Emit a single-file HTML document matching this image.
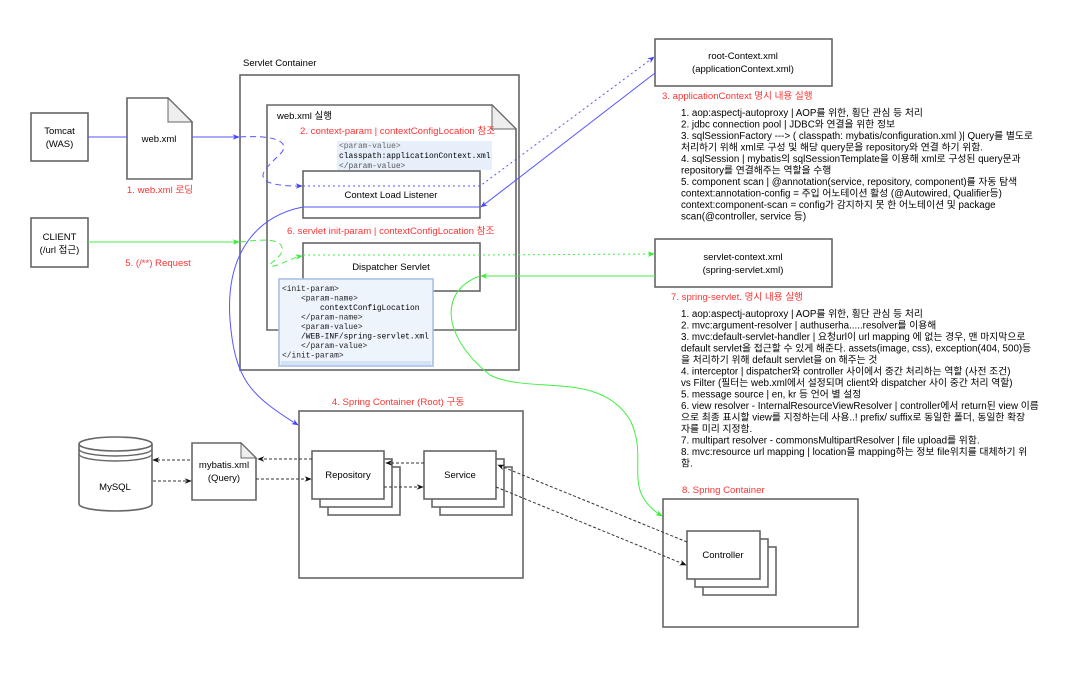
<!DOCTYPE html>
<html><head><meta charset="utf-8"><style>
html,body{margin:0;padding:0;background:#fff;}
svg{display:block;font-family:"Liberation Sans","Noto Sans CJK KR",sans-serif;}
.b{fill:#fff;stroke:#666;stroke-width:1.6}
.t{font-size:9.5px;fill:#000}
.r{font-size:9.6px;fill:#ff3333}
.m{font-family:"Liberation Mono",monospace;font-size:7.9px}
.l{font-size:9.8px;fill:#000}
</style></head><body>
<svg width="1075" height="678" viewBox="0 0 1075 678" xmlns="http://www.w3.org/2000/svg">
<defs>
<marker id="ab" viewBox="0 0 10 10" refX="9" refY="5" markerWidth="7" markerHeight="7" orient="auto"><path d="M0,1 L10,5 L0,9 L3,5z" fill="#4444ff"/></marker>
<marker id="ag" viewBox="0 0 10 10" refX="9" refY="5" markerWidth="7" markerHeight="7" orient="auto"><path d="M0,1 L10,5 L0,9 L3,5z" fill="#33ee33"/></marker>
<marker id="ak" viewBox="0 0 10 10" refX="9" refY="5" markerWidth="7" markerHeight="7" orient="auto"><path d="M0,1 L10,5 L0,9 L3,5z" fill="#111"/></marker>
</defs>

<!-- Left boxes -->
<rect class="b" x="31" y="113" width="57" height="48"/>
<text class="t" x="59.5" y="134" text-anchor="middle">Tomcat</text>
<text class="t" x="59.5" y="147" text-anchor="middle">(WAS)</text>
<path class="b" d="M127,98 H168 L192,122 V179 H127Z"/>
<path d="M168,98 V122 H192Z" fill="#eee" stroke="#666" stroke-width="1"/>
<text class="t" x="159" y="142" text-anchor="middle">web.xml</text>
<text class="r" x="160" y="193" text-anchor="middle">1.  web.xml 로딩</text>
<rect class="b" x="31" y="218" width="57" height="49"/>
<text class="t" x="59.5" y="240" text-anchor="middle">CLIENT</text>
<text class="t" x="59.5" y="253" text-anchor="middle">(/url 접근)</text>
<text class="r" x="158" y="266" text-anchor="middle">5. (/**) Request</text>

<!-- Servlet container -->
<text class="t" x="243" y="66">Servlet Container</text>
<rect class="b" x="240" y="75" width="279" height="295"/>
<path class="b" d="M267,105 H492 L516,129 V330 H267Z"/>
<path d="M492,105 V129 H516Z" fill="#eee" stroke="#666" stroke-width="1"/>
<text class="t" x="277" y="119">web.xml 실행</text>
<text class="r" x="300" y="134">2. context-param | contextConfigLocation 참조</text>
<rect x="337" y="141" width="155" height="29" fill="#e6effa"/>
<text class="m" x="339" y="148" fill="#666">&lt;param-value&gt;</text>
<text class="m" x="339" y="158" fill="#000">classpath:applicationContext.xml</text>
<text class="m" x="339" y="168" fill="#555">&lt;/param-value&gt;</text>
<rect class="b" x="303" y="171" width="177" height="47"/>
<text class="t" x="391" y="198" text-anchor="middle">Context Load Listener</text>
<text class="r" x="287" y="234">6. servlet init-param | contextConfigLocation 참조</text>
<rect class="b" x="303" y="243" width="177" height="48"/>
<text class="t" x="391" y="270" text-anchor="middle">Dispatcher Servlet</text>
<rect x="279" y="279" width="154" height="87" fill="#eef4fc" stroke="#a9c0e6" stroke-width="1.6"/>
<rect x="281" y="361" width="150" height="4" fill="#d4e2f6"/>
<g class="m" fill="#222">
<text x="282" y="291">&lt;init-param&gt;</text>
<text x="301" y="300.5">&lt;param-name&gt;</text>
<text x="320" y="310" fill="#000">contextConfigLocation</text>
<text x="301" y="319.5">&lt;/param-name&gt;</text>
<text x="301" y="329">&lt;param-value&gt;</text>
<text x="301" y="338.5" fill="#000">/WEB-INF/spring-servlet.xml</text>
<text x="301" y="348">&lt;/param-value&gt;</text>
<text x="282" y="357.5">&lt;/init-param&gt;</text>
</g>

<!-- right top -->
<rect class="b" x="655" y="39" width="177" height="47"/>
<text class="t" x="743" y="59" text-anchor="middle">root-Context.xml</text>
<text class="t" x="743" y="72" text-anchor="middle">(applicationContext.xml)</text>
<text class="r" x="662" y="99">3. applicationContext 명시 내용 실행</text>
<g class="l">
<text x="681" y="116">1. aop:aspectj-autoproxy  | AOP를 위한, 횡단 관심 등 처리</text>
<text x="681" y="127.5">2. jdbc connection pool    | JDBC와 연결을 위한 정보</text>
<text x="681" y="139">3. sqlSessionFactory  ---&gt; ( classpath: mybatis/configuration.xml )| Query를 별도로</text>
<text x="681" y="150.5">처리하기 위해 xml로 구성 및 해당 query문을 repository와 연결 하기 위함.</text>
<text x="681" y="162">4. sqlSession | mybatis의 sqlSessionTemplate을 이용해 xml로 구성된 query문과</text>
<text x="681" y="173.5">repository를 연결해주는 역할을 수행</text>
<text x="681" y="185">5. component scan  | @annotation(service, repository, component)를 자동 탐색</text>
<text x="681" y="196.5">context:annotation-config = 주입 어노테이션 활성 (@Autowired, Qualifier등)</text>
<text x="681" y="208">context:component-scan = config가 감지하지 못 한 어노테이션 및 package</text>
<text x="681" y="219.5">scan(@controller, service 등)</text>
</g>
<rect class="b" x="655" y="239" width="177" height="48"/>
<text class="t" x="743" y="260" text-anchor="middle">servlet-context.xml</text>
<text class="t" x="743" y="273" text-anchor="middle">(spring-servlet.xml)</text>
<text class="r" x="671" y="300">7. spring-servlet. 명시 내용 실행</text>
<g class="l">
<text x="681" y="317">1. aop:aspectj-autoproxy  | AOP를 위한, 횡단 관심 등 처리</text>
<text x="681" y="328.5">2. mvc:argument-resolver | authuserha.....resolver를 이용해</text>
<text x="681" y="340">3. mvc:default-servlet-handler | 요청url이 url mapping 에 없는 경우, 맨 마지막으로</text>
<text x="681" y="351.5">default servlet을 접근할 수 있게 해준다. assets(image, css), exception(404, 500)등</text>
<text x="681" y="363">을 처리하기 위해 default servlet을 on 해주는 것</text>
<text x="681" y="374.5">4. interceptor | dispatcher와 controller 사이에서 중간 처리하는 역할  (사전 조건)</text>
<text x="681" y="386">vs Filter (필터는 web.xml에서 설정되며 client와 dispatcher 사이 중간 처리 역할)</text>
<text x="681" y="397.5">5. message source | en, kr 등 언어 별 설정</text>
<text x="681" y="409">6. view resolver - InternalResourceViewResolver | controller에서 return된 view 이름</text>
<text x="681" y="420.5">으로 최종 표시할 view를 지정하는데 사용..! prefix/ suffix로 동일한 폴더, 동일한 확장</text>
<text x="681" y="432">자를 미리 지정함.</text>
<text x="681" y="443.5">7. multipart resolver - commonsMultipartResolver | file upload를 위함.</text>
<text x="681" y="455">8. mvc:resource url mapping | location을 mapping하는 정보 file위치를 대체하기 위</text>
<text x="681" y="466.5">함.</text>
</g>

<!-- Spring root container -->
<text class="r" x="398" y="405" text-anchor="middle">4. Spring Container (Root) 구동</text>
<rect class="b" x="299" y="411" width="224" height="167"/>
<rect class="b" x="328" y="467" width="72" height="48"/>
<rect class="b" x="320" y="459" width="72" height="48"/>
<rect class="b" x="312" y="451" width="72" height="48"/>
<text class="t" x="348" y="478" text-anchor="middle">Repository</text>
<rect class="b" x="440" y="467" width="72" height="48"/>
<rect class="b" x="432" y="459" width="72" height="48"/>
<rect class="b" x="424" y="451" width="72" height="48"/>
<text class="t" x="460" y="478" text-anchor="middle">Service</text>

<!-- MySQL -->
<path class="b" d="M79,444 V504 A36.5,7 0 0 0 152,504 V444"/>
<ellipse class="b" cx="115.5" cy="444" rx="36.5" ry="7"/>
<path d="M79,449 A36.5,7 0 0 0 152,449 M79,454 A36.5,7 0 0 0 152,454" fill="none" stroke="#666" stroke-width="1.4"/>
<text class="t" x="115" y="490" text-anchor="middle">MySQL</text>
<path class="b" d="M192,443 H241 L256,458 V500 H192Z"/>
<path d="M241,443 V458 H256Z" fill="#eee" stroke="#666" stroke-width="1"/>
<text class="t" x="224" y="468" text-anchor="middle">mybatis.xml</text>
<text class="t" x="224" y="481" text-anchor="middle">(Query)</text>

<!-- Spring container 8 -->
<text class="r" x="682" y="493">8. Spring Container</text>
<rect class="b" x="663" y="499" width="195" height="128"/>
<rect class="b" x="703" y="547" width="73" height="48"/>
<rect class="b" x="695" y="539" width="73" height="48"/>
<rect class="b" x="687" y="531" width="73" height="48"/>
<text class="t" x="723" y="558" text-anchor="middle">Controller</text>

<!-- black dashed -->
<g fill="none" stroke="#333" stroke-width="1" stroke-dasharray="3,2">
<path d="M190,460 H153" marker-end="url(#ak)"/>
<path d="M153,481 H191" marker-end="url(#ak)"/>
<path d="M312,459 H258" marker-end="url(#ak)"/>
<path d="M256,479 H311" marker-end="url(#ak)"/>
<path d="M424,463 H386" marker-end="url(#ak)"/>
<path d="M384,487 H423" marker-end="url(#ak)"/>
<path d="M687,542 L498,465" marker-end="url(#ak)"/>
<path d="M496,487 L686,565" marker-end="url(#ak)"/>
</g>

<!-- blue -->
<g fill="none" stroke="#5555ff" stroke-width="1">
<path d="M88,137 H127"/>
<path d="M192,137 H239" marker-end="url(#ab)"/>
<path d="M240,137 C270,135 290,140 282,152 C270,165 255,175 268,182 C278,186 290,186 302,186" stroke-dasharray="6,4" marker-end="url(#ab)"/>
<path d="M303,186 H480 L654,57" stroke-dasharray="2,3" marker-end="url(#ab)"/>
<path d="M655,73 L481,207" marker-end="url(#ab)"/>
<path d="M480,207 H303 C260,215 225,250 230,320 C235,380 250,395 298,425" marker-end="url(#ab)"/>
</g>
<!-- green -->
<g fill="none" stroke="#44ee44" stroke-width="1">
<path d="M88,242 H239" marker-end="url(#ag)"/>
<path d="M240,242 C258,240 275,238 281,245 C287,255 270,262 270,265 C272,270 290,258 302,256" stroke-dasharray="6,4" marker-end="url(#ag)"/>
<path d="M303,255 H480 L654,254" stroke-dasharray="2,3" marker-end="url(#ag)"/>
<path d="M655,276 H481" marker-end="url(#ag)"/>
<path d="M480,276 C440,290 440,335 490,375 C530,395 600,370 630,420 C650,460 620,490 662,516" marker-end="url(#ag)"/>
</g>
</svg>
</body></html>
